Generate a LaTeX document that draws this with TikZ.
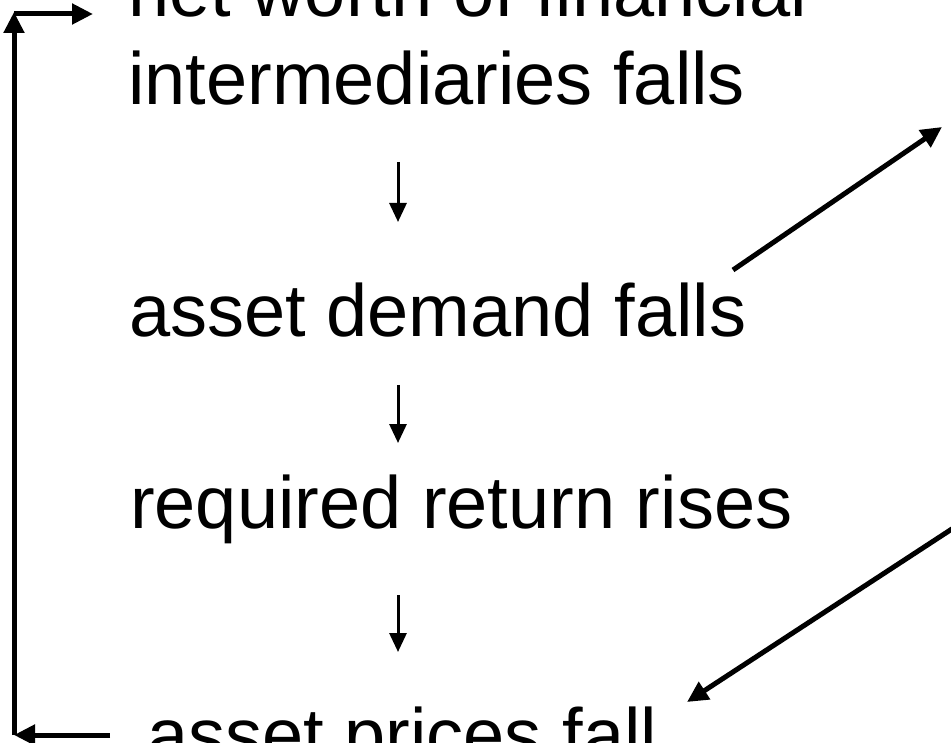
\documentclass[tikz,border=0pt]{standalone}
\usepackage{fontspec}
\setmainfont{Liberation Sans}
\usetikzlibrary{arrows.meta}
\begin{document}
\begin{tikzpicture}[x=1pt,y=-1pt,
  lbl/.style={anchor=base west,inner sep=0pt,font=\fontsize{74}{88}\selectfont},
  thick arrow/.style={line width=5pt,-{Triangle[length=21pt,width=20pt]}},
  thin arrow/.style={line width=3pt,-{Triangle[length=19pt,width=17pt]}}]
\useasboundingbox (0,0) rectangle (951,743);
\node[lbl] (l1) at (128,17) {net worth of financial};
\node[lbl] (l2) at (128,105) {intermediaries falls};
\node[lbl] (l3) at (129,337) {asset demand falls};
\node[lbl] (l4) at (130,528) {required return rises};
\node[lbl] (l5) at (147,760) {asset prices fall};
% down arrows
\coordinate (a1s) at (398,162); \coordinate (a1e) at (398,222);
\coordinate (a2s) at (398,385); \coordinate (a2e) at (398,443);
\coordinate (a3s) at (398,595); \coordinate (a3e) at (398,652);
\draw[thin arrow] (a1s) -- (a1e);
\draw[thin arrow] (a2s) -- (a2e);
\draw[thin arrow] (a3s) -- (a3e);
% diagonal arrows
\coordinate (d1s) at (733,270); \coordinate (d1e) at (942,127);
\coordinate (d2s) at (958,525); \coordinate (d2e) at (687,702);
\draw[thick arrow] (d1s) -- (d1e);
\draw[thick arrow] (d2s) -- (d2e);
% feedback loop
\coordinate (fb) at (14,735); \coordinate (ft) at (14,12);
\coordinate (ftl) at (14,14); \coordinate (ftr) at (93,14);
\coordinate (fbr) at (110,735);
\draw[thick arrow] (fb) -- (ft);
\draw[thick arrow] (ftl) -- (ftr);
\draw[thick arrow] (fbr) -- (fb);
\end{tikzpicture}
\end{document}
